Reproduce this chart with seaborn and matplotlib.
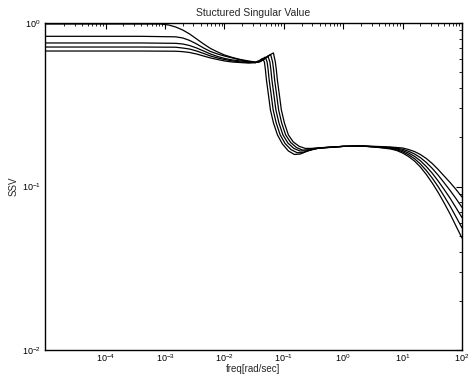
import numpy as np
import pandas as pd
import seaborn as sns
import matplotlib
matplotlib.use("Agg")
import matplotlib.pyplot as plt
from matplotlib.ticker import LogLocator, NullFormatter

# frequencies as log10(rad/sec), magnitudes as SSV, one pair per curve
lf_1 = [-5, -4, -3.4, -3.070, -2.936, -2.819, -2.701, -2.584, -2.466, -2.349, -2.232, -2.114,
        -1.997, -1.862, -1.728, -1.594, -1.477,
        -1.409, -1.359, -1.326, -1.309, -1.292, -1.258, -1.225, -1.174, -1.107, -1.023,
        -0.923, -0.822, -0.721, -0.621, -0.487, -0.302,
        0.0, 0.3, 0.6, 0.8, 0.9, 1.0, 1.1, 1.2, 1.3, 1.4, 1.5, 1.6, 1.7, 1.8, 1.9, 2.0]
ssv_1 = [0.986, 0.986, 0.986, 0.986, 0.972, 0.945, 0.906, 0.856, 0.798, 0.744, 0.698, 0.665,
         0.637, 0.615, 0.598, 0.586, 0.577,
         0.590, 0.607, 0.577, 0.516, 0.448, 0.363, 0.294, 0.245, 0.207, 0.182,
         0.165, 0.157, 0.158, 0.164, 0.170, 0.173,
         0.176, 0.177, 0.1732, 0.1696, 0.1661, 0.1603, 0.1526, 0.1432, 0.1316, 0.1184,
         0.1050, 0.0919, 0.0793, 0.0679, 0.0573, 0.0484]

lf_low = [-5, -4, -3.4, -2.819, -2.701, -2.584, -2.466, -2.349, -2.232, -2.114,
          -1.997, -1.862, -1.728, -1.594, -1.477]
lf_high = [0.0, 0.3, 0.6, 0.8, 0.9, 1.0, 1.1, 1.2, 1.3, 1.4, 1.5, 1.6, 1.7, 1.8, 1.9, 2.0]

lf_2 = lf_low + [-1.40, -1.36, -1.313, -1.280, -1.263, -1.246, -1.212, -1.179, -1.128,
                 -1.061, -0.977, -0.877, -0.776, -0.675, -0.575, -0.441, -0.302] + lf_high
ssv_2 = [0.829, 0.829, 0.829, 0.823, 0.810, 0.782, 0.744, 0.703, 0.669, 0.646,
         0.628, 0.611, 0.594, 0.581, 0.573,
         0.586, 0.602, 0.619, 0.577, 0.516, 0.448, 0.363, 0.294, 0.245,
         0.207, 0.183, 0.168, 0.161, 0.161, 0.166, 0.171, 0.173,
         0.176, 0.177, 0.1738, 0.1708, 0.1678, 0.1632, 0.1564, 0.1481, 0.1374, 0.1252,
         0.1125, 0.0997, 0.0872, 0.0759, 0.0652, 0.0559]

lf_3 = lf_low + [-1.40, -1.33, -1.267, -1.234, -1.217, -1.200, -1.166, -1.133, -1.082,
                 -1.015, -0.931, -0.831, -0.730, -0.629, -0.529, -0.395, -0.25] + lf_high
ssv_3 = [0.755, 0.755, 0.755, 0.751, 0.744, 0.728, 0.703, 0.674, 0.646, 0.624,
         0.607, 0.594, 0.586, 0.577, 0.573,
         0.581, 0.602, 0.628, 0.577, 0.516, 0.448, 0.363, 0.294, 0.245,
         0.207, 0.1845, 0.171, 0.165, 0.165, 0.168, 0.172, 0.173,
         0.176, 0.177, 0.1744, 0.1720, 0.1696, 0.1661, 0.1603, 0.1531, 0.1437, 0.1325,
         0.1205, 0.1080, 0.0959, 0.0848, 0.0741, 0.0646]

lf_4 = lf_low + [-1.40, -1.30, -1.221, -1.188, -1.171, -1.154, -1.120, -1.087, -1.036,
                 -0.969, -0.885, -0.785, -0.684, -0.583, -0.483, -0.35] + lf_high
ssv_4 = [0.713, 0.713, 0.713, 0.711, 0.703, 0.693, 0.674, 0.651, 0.628, 0.611,
         0.598, 0.586, 0.577, 0.573, 0.573,
         0.581, 0.611, 0.642, 0.577, 0.516, 0.448, 0.363, 0.294, 0.245,
         0.207, 0.186, 0.173, 0.167, 0.168, 0.171, 0.173,
         0.176, 0.177, 0.1750, 0.1732, 0.1714, 0.1690, 0.1643, 0.1583, 0.1502, 0.1402,
         0.1290, 0.1172, 0.1054, 0.0946, 0.0843, 0.0746]

lf_5 = lf_low + [-1.40, -1.30, -1.24, -1.175, -1.142, -1.125, -1.108, -1.074, -1.041, -0.990,
                 -0.923, -0.839, -0.739, -0.638, -0.537, -0.437, -0.30] + lf_high
ssv_5 = [0.674, 0.674, 0.674, 0.672, 0.668, 0.660, 0.646, 0.628, 0.611, 0.598,
         0.586, 0.577, 0.573, 0.569, 0.573,
         0.581, 0.615, 0.637, 0.656, 0.577, 0.516, 0.448, 0.363, 0.294, 0.245,
         0.207, 0.187, 0.176, 0.171, 0.171, 0.172, 0.173,
         0.176, 0.177, 0.1757, 0.1744, 0.1732, 0.1720, 0.1684, 0.1637, 0.1569, 0.1483,
         0.1382, 0.1270, 0.1159, 0.1058, 0.0959, 0.0863]

curves = [(lf_1, ssv_1), (lf_2, ssv_2), (lf_3, ssv_3), (lf_4, ssv_4), (lf_5, ssv_5)]

frames = []
for i, (lf, ssv) in enumerate(curves):
    frames.append(pd.DataFrame({"freq": np.power(10.0, lf), "ssv": ssv, "curve": i}))
df = pd.concat(frames, ignore_index=True)

sns.set_style("white")
plt.rcParams["font.family"] = ["Liberation Sans", "DejaVu Sans"]
plt.rcParams["mathtext.fontset"] = "custom"
plt.rcParams["mathtext.rm"] = "Liberation Sans"
plt.rcParams["mathtext.it"] = "Liberation Sans"

fig = plt.figure(figsize=(4.69, 3.79), dpi=100)
ax = fig.add_axes([0.096, 0.0765, 0.889, 0.8628])

sns.lineplot(data=df, x="freq", y="ssv", hue="curve", units="curve", estimator=None,
             palette=["black"] * 5, linewidth=0.9, legend=False, sort=False, ax=ax)

ax.set_xscale("log")
ax.set_yscale("log")
ax.set_xlim(10 ** -5.02, 1e2)
ax.set_ylim(1e-2, 1e0)
ax.set_xticks([1e-4, 1e-3, 1e-2, 1e-1, 1e0, 1e1, 1e2])
ax.set_yticks([1e-2, 1e-1, 1e0])
ax.xaxis.set_minor_locator(LogLocator(base=10, subs=np.arange(2, 10), numticks=20))
ax.yaxis.set_minor_locator(LogLocator(base=10, subs=np.arange(2, 10), numticks=20))
ax.xaxis.set_minor_formatter(NullFormatter())
ax.yaxis.set_minor_formatter(NullFormatter())

ax.tick_params(which="both", direction="in", top=True, right=True, labelsize=6.5, colors="black")
ax.tick_params(which="major", length=4, width=0.8)
ax.tick_params(which="minor", length=2, width=0.6)
ax.tick_params(axis="x", which="major", pad=2)
ax.tick_params(axis="y", which="major", pad=3)
for s in ax.spines.values():
    s.set_linewidth(1.0)
    s.set_color("black")

ax.set_title("Stuctured Singular Value", fontsize=7.5, pad=5)
ax.set_xlabel("freq[rad/sec]", fontsize=7, labelpad=0)
ax.set_ylabel("SSV", fontsize=7, labelpad=2)

fig.savefig("out.png", dpi=100)
